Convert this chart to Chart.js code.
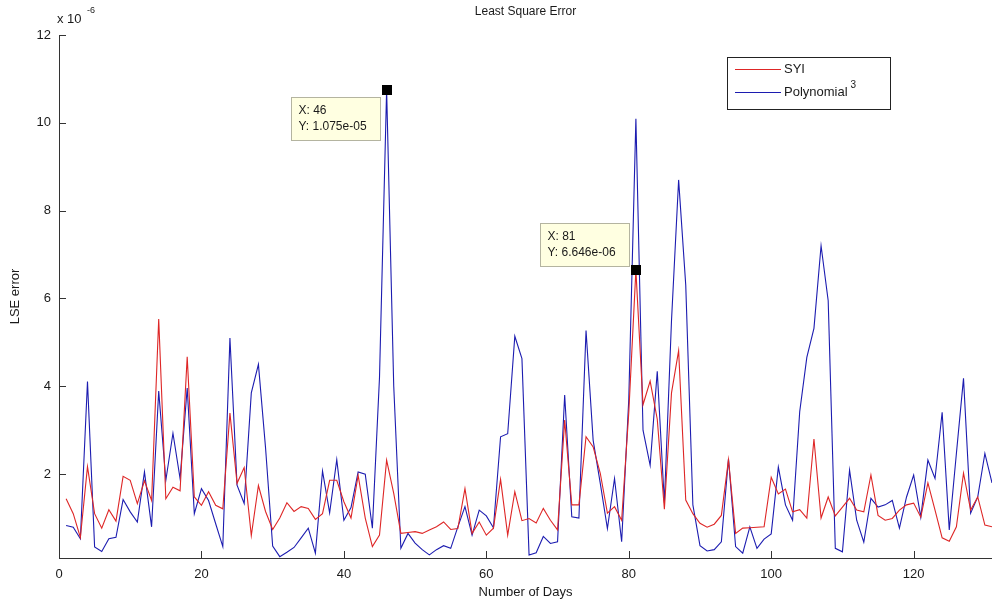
<!DOCTYPE html>
<html>
<head>
<meta charset="utf-8">
<title>Least Square Error</title>
<script src="https://cdn.jsdelivr.net/npm/chart.js@4.4.1/dist/chart.umd.min.js"></script>
<style>
  html, body { margin: 0; padding: 0; background: #fff; }
  #wrap { width: 992px; height: 603px; }
</style>
</head>
<body>
<div id="wrap"><canvas id="lse" width="992" height="603"></canvas></div>
<script>
// LSE error per day, in units of 1e-6
const syi = [
  1.44, 1.10, 0.56, 2.17, 1.10, 0.77, 1.19, 0.93, 1.95, 1.86,
  1.33, 1.85, 1.40, 5.53, 1.44, 1.70, 1.62, 4.67, 1.48, 1.29,
  1.60, 1.29, 1.21, 3.39, 1.79, 2.15, 0.60, 1.74, 1.15, 0.74,
  1.00, 1.35, 1.15, 1.26, 1.22, 0.97, 1.10, 1.86, 1.86, 1.37,
  1.00, 1.97, 1.00, 0.35, 0.61, 2.32, 1.56, 0.65, 0.67, 0.69,
  0.65, 0.73, 0.80, 0.91, 0.74, 0.76, 1.67, 0.65, 0.91, 0.61,
  0.77, 1.88, 0.61, 1.60, 0.94, 0.99, 0.89, 1.22, 0.95, 0.73,
  3.23, 1.30, 1.30, 2.85, 2.62, 2.02, 1.11, 1.26, 0.95, 3.40,
  6.646, 3.58, 4.12, 3.25, 1.20, 3.85, 4.81, 1.41, 1.10, 0.88,
  0.79, 0.86, 1.06, 2.33, 0.65, 0.77, 0.78, 0.79, 0.80, 1.93,
  1.55, 1.66, 1.14, 1.19, 1.00, 2.80, 1.00, 1.48, 1.05, 1.25,
  1.45, 1.18, 1.14, 1.98, 1.06, 0.95, 0.99, 1.18, 1.30, 1.34,
  1.02, 1.80, 1.18, 0.55, 0.47, 0.80, 2.02, 1.18, 1.48, 0.84,
  0.80
];
const poly3 = [
  0.83, 0.79, 0.53, 4.11, 0.34, 0.24, 0.53, 0.56, 1.42, 1.14,
  0.91, 2.05, 0.80, 3.89, 1.86, 2.93, 1.90, 3.96, 1.10, 1.67,
  1.40, 0.87, 0.35, 5.10, 1.75, 1.33, 3.85, 4.50, 2.60, 0.36,
  0.12, 0.22, 0.33, 0.55, 0.77, 0.20, 2.07, 1.12, 2.33, 0.95,
  1.24, 2.05, 2.00, 0.77, 4.20, 10.75, 4.00, 0.31, 0.65, 0.43,
  0.28, 0.16, 0.28, 0.37, 0.31, 0.80, 1.26, 0.61, 1.18, 1.05,
  0.78, 2.85, 2.92, 5.14, 4.63, 0.16, 0.21, 0.58, 0.42, 0.46,
  3.80, 1.03, 1.00, 5.27, 2.77, 1.79, 0.76, 1.90, 0.46, 3.70,
  10.09, 3.00, 2.20, 4.34, 1.35, 5.50, 8.70, 6.30, 1.30, 0.37,
  0.25, 0.28, 0.46, 2.35, 0.35, 0.20, 0.80, 0.31, 0.52, 0.64,
  2.16, 1.30, 0.95, 3.42, 4.66, 5.32, 7.20, 5.95, 0.31, 0.23,
  2.09, 0.95, 0.45, 1.45, 1.25, 1.30, 1.40, 0.77, 1.48, 1.98,
  1.02, 2.32, 1.90, 3.41, 0.73, 2.47, 4.18, 1.11, 1.48, 2.47,
  1.80
];
const seriesNames = ["SYI", "Polynomial"];
const xTicks = [0, 20, 40, 60, 80, 100, 120];
const yTicks = [2, 4, 6, 8, 10, 12];
const yExponent = -6;
// data tips: [series index, day]
const dataTips = [[1, 46], [0, 81]];

const RED = "rgb(222, 38, 38)";
const BLUE = "rgb(28, 28, 176)";
const FONT = "'Liberation Sans', Arial, sans-serif";
const INK = "#1a1a1a";

const toPoints = (arr) => arr.map((v, i) => ({ x: i + 1, y: v }));

function fmtTip(v) {
  // matlab style: 1.075e-05
  const s = (v * Math.pow(10, yExponent)).toExponential(3);
  const [m, e] = s.split("e");
  const n = Math.abs(parseInt(e, 10));
  return m + "e" + (e[0] === "-" ? "-" : "+") + String(n).padStart(2, "0");
}

const decorations = {
  id: "decorations",
  afterDraw(chart) {
    const { ctx, chartArea: a, scales } = chart;
    const xs = scales.x, ys = scales.y;
    ctx.save();

    // inward tick marks
    ctx.strokeStyle = "#333";
    ctx.lineWidth = 1;
    ctx.beginPath();
    xTicks.forEach((t) => {
      const px = Math.round(xs.getPixelForValue(t)) + 0.5;
      ctx.moveTo(px, a.bottom);
      ctx.lineTo(px, a.bottom - 7);
    });
    yTicks.forEach((t) => {
      const py = Math.round(ys.getPixelForValue(t)) + 0.5;
      ctx.moveTo(a.left, py);
      ctx.lineTo(a.left + 7, py);
    });
    ctx.stroke();

    // title and axis labels
    ctx.fillStyle = INK;
    ctx.textAlign = "center";
    ctx.textBaseline = "middle";
    ctx.font = "12px " + FONT;
    const cx = (a.left + a.right) / 2;
    ctx.fillText("Least Square Error", cx, 12);
    ctx.font = "13px " + FONT;
    ctx.fillText("Number of Days", cx, 592);
    ctx.save();
    ctx.translate(15, (a.top + a.bottom) / 2);
    ctx.rotate(-Math.PI / 2);
    ctx.fillText("LSE error", 0, 0);
    ctx.restore();

    // exponent label
    ctx.textAlign = "left";
    ctx.font = "13px " + FONT;
    ctx.fillText("x 10", 57, 19);
    ctx.font = "9px " + FONT;
    ctx.fillText(String(yExponent), 87, 11);

    // legend
    const lx = 727.5, ly = 57.5, lw = 163, lh = 52;
    ctx.fillStyle = "#fff";
    ctx.fillRect(lx, ly, lw, lh);
    ctx.strokeStyle = "#222";
    ctx.strokeRect(lx, ly, lw, lh);
    [[RED, seriesNames[0], 69], [BLUE, seriesNames[1], 92]].forEach(([c, name, y]) => {
      ctx.strokeStyle = c;
      ctx.beginPath();
      ctx.moveTo(735, y + 0.5);
      ctx.lineTo(781, y + 0.5);
      ctx.stroke();
      ctx.fillStyle = INK;
      ctx.font = "13px " + FONT;
      ctx.textAlign = "left";
      ctx.fillText(name, 784, y);
      if (name === seriesNames[1]) {
        const w = ctx.measureText(name).width;
        ctx.font = "10px " + FONT;
        ctx.fillText("3", 784 + w + 3, y - 7);
      }
    });

    // data tips
    const sets = [syi, poly3];
    dataTips.forEach(([si, day], k) => {
      const v = sets[si][day - 1];
      const px = xs.getPixelForValue(day);
      const py = ys.getPixelForValue(v);
      const bw = 89, bh = 43;
      const bx = Math.round(px - 7 - bw) + 0.5;
      const by = k === 0 ? Math.round(py + 7) + 0.5 : Math.round(py - 4 - bh) + 0.5;
      ctx.fillStyle = "#ffffe1";
      ctx.fillRect(bx, by, bw, bh);
      ctx.strokeStyle = "#b4b4a0";
      ctx.strokeRect(bx, by, bw, bh);
      ctx.fillStyle = INK;
      ctx.font = "12px " + FONT;
      ctx.textAlign = "left";
      ctx.fillText("X: " + day, bx + 7, by + 13);
      ctx.fillText("Y: " + fmtTip(v), bx + 7, by + 29);
      ctx.fillStyle = "#000";
      ctx.fillRect(Math.round(px) - 5, Math.round(py) - 5, 10, 10);
    });

    ctx.restore();
  }
};

new Chart(document.getElementById("lse"), {
  type: "line",
  data: {
    datasets: [
      { label: seriesNames[0], data: toPoints(syi), borderColor: RED, borderWidth: 1.1 },
      { label: seriesNames[1], data: toPoints(poly3), borderColor: BLUE, borderWidth: 1.1 },
    ],
  },
  options: {
    responsive: false,
    animation: false,
    events: [],
    elements: { point: { radius: 0 }, line: { tension: 0 } },
    layout: { padding: { top: 35, left: 0, right: 0, bottom: 0 } },
    plugins: { legend: { display: false }, title: { display: false }, tooltip: { enabled: false } },
    scales: {
      x: {
        type: "linear",
        min: 0,
        max: 131,
        afterBuildTicks: (s) => { s.ticks = xTicks.map((v) => ({ value: v })); },
        afterFit: (s) => { s.height = 45; },
        grid: { display: false, drawTicks: false },
        border: { display: true, color: "#333", width: 1 },
        ticks: { color: INK, font: { family: FONT, size: 13 }, padding: 9, maxRotation: 0 },
      },
      y: {
        type: "linear",
        min: 0.09,
        max: 12,
        afterBuildTicks: (s) => { s.ticks = yTicks.map((v) => ({ value: v })); },
        afterFit: (s) => { s.width = 59; },
        grid: { display: false, drawTicks: false },
        border: { display: true, color: "#333", width: 1 },
        ticks: { color: INK, font: { family: FONT, size: 13 }, padding: 8 },
      },
    },
  },
  plugins: [decorations],
});
</script>
</body>
</html>
